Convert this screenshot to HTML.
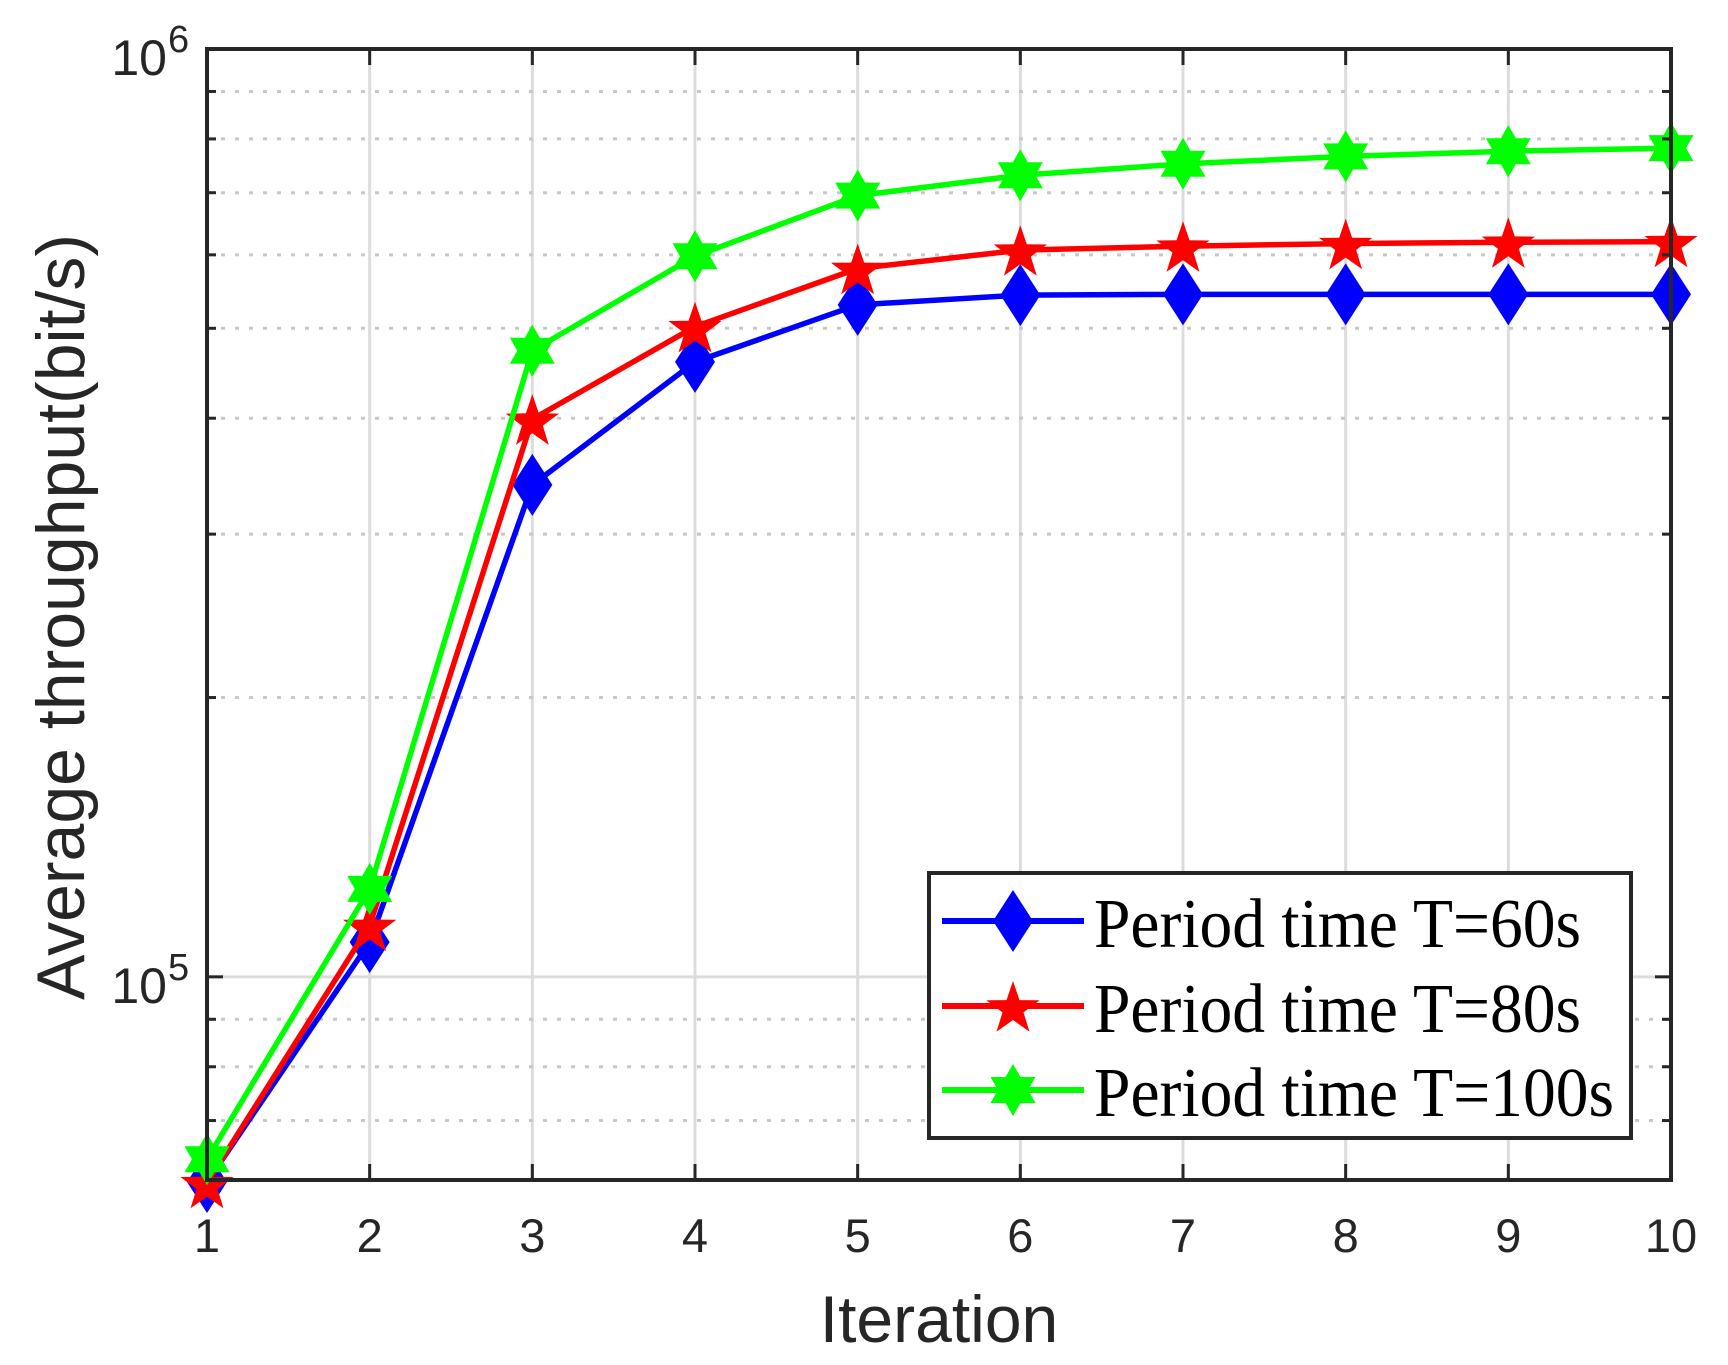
<!DOCTYPE html>
<html><head><meta charset="utf-8"><style>
html,body{margin:0;padding:0;background:#fff;}
svg{display:block;}
</style></head><body>
<svg id="chart" width="1728" height="1365" viewBox="0 0 1728 1365" xmlns="http://www.w3.org/2000/svg" font-family="Liberation Sans, sans-serif">
<rect width="1728" height="1365" fill="#fff"/>
<g id="grid"></g>
<g id="series"></g>
<g id="axes"></g>
<text x="939" y="1342" font-size="66" text-anchor="middle" fill="#262626">Iteration</text>
<text transform="translate(84,617) rotate(-90)" font-size="68" text-anchor="middle" fill="#262626">Average throughput(bit/s)</text>
<g id="legend"></g>
</svg>
<script>
const iterations = [1,2,3,4,5,6,7,8,9,10];
const seriesNames = ["Period time T=60s","Period time T=80s","Period time T=100s"];
const t60 = [60100,109000,339000,460000,530000,543000,544000,544000,544000,544000];
const t80 = [60000,113600,399000,502000,580000,607000,613000,617000,619000,620000];
const t100 = [63600,124400,473000,598000,695000,731000,752000,766000,776000,782000];
const xTicks = [1,2,3,4,5,6,7,8,9,10];
const yMin = 60400, yMax = 1000000;

const L=207,R=1671,T=49,B=1180;
const NS="http://www.w3.org/2000/svg";
const xs = v => L + (v-1)/9*(R-L);
const ys = v => T + (Math.log10(yMax)-Math.log10(v))/(Math.log10(yMax)-Math.log10(yMin))*(B-T);
function mk(tag, attrs, parent){const e=document.createElementNS(NS,tag);for(const k in attrs)e.setAttribute(k,attrs[k]);parent.appendChild(e);return e;}
const grid=document.getElementById('grid'), axes=document.getElementById('axes'), ser=document.getElementById('series'), leg=document.getElementById('legend');

xTicks.forEach(t=>{
  const x=xs(t);
  if(t>1&&t<10){const g=mk('line',{x1:x,x2:x,y1:T,y2:B,stroke:'#dcdcdc','stroke-width':3},grid);
  
  }
  mk('line',{x1:x,x2:x,y1:B,y2:B-16,stroke:'#262626','stroke-width':3},axes);
  mk('line',{x1:x,x2:x,y1:T,y2:T+16,stroke:'#262626','stroke-width':3},axes);
  const tx=mk('text',{x:x,y:1252,'font-size':47,'text-anchor':'middle',fill:'#262626'},axes);
  tx.textContent=t;
  
  
});
[1e5].forEach(v=>{const y=ys(v);mk('line',{x1:L,x2:R,y1:y,y2:y,stroke:'#dcdcdc','stroke-width':3},grid);
  mk('line',{x1:L,x2:L+16,y1:y,y2:y,stroke:'#262626','stroke-width':3},axes);
  mk('line',{x1:R,x2:R-16,y1:y,y2:y,stroke:'#262626','stroke-width':3},axes);});
[7e4,8e4,9e4,2e5,3e5,4e5,5e5,6e5,7e5,8e5,9e5].forEach(v=>{const y=ys(v);
  const g=mk('line',{x1:L,x2:R,y1:y,y2:y,stroke:'#c8c8c8','stroke-width':3,'stroke-dasharray':'4 10'},grid);
  
  
  mk('line',{x1:L,x2:L+9,y1:y,y2:y,stroke:'#262626','stroke-width':3},axes);
  mk('line',{x1:R,x2:R-9,y1:y,y2:y,stroke:'#262626','stroke-width':3},axes);});
[[1e5,'5'],[1e6,'6']].forEach(([v,e])=>{const y=ys(v);
  const t=mk('text',{x:167,y:y+26,'font-size':50,'text-anchor':'end',fill:'#262626'},axes);t.textContent='10';
  
  
  const s=mk('text',{x:168,y:y+3,'font-size':38,fill:'#262626'},axes);s.textContent=e;});
mk('rect',{x:L,y:T,width:R-L,height:B-T,fill:'none',stroke:'#262626','stroke-width':4},axes);

function starPts(cx,cy,n,ro,ri){let p=[];for(let i=0;i<2*n;i++){const a=-Math.PI/2+i*Math.PI/n;const r=i%2?ri:ro;p.push((cx+r*Math.cos(a)).toFixed(1)+','+(cy+r*Math.sin(a)).toFixed(1));}return p.join(' ');}
function marker(kind,cx,cy,color,parent){
  if(kind==='d') return mk('polygon',{points:`${cx},${cy-31} ${cx+20},${cy} ${cx},${cy+31} ${cx-20},${cy}`,fill:color},parent);
  if(kind==='p') return mk('polygon',{points:starPts(cx,cy+3,5,28,11),fill:color},parent);
  return mk('polygon',{points:starPts(cx,cy,6,26,15),fill:color},parent);
}
const all=[[t60,'#0000ff','d','series-t60'],[t80,'#ff0000','p','series-t80'],[t100,'#00ff00','h','series-t100']];
all.forEach(([d,c,k,n])=>{
  const g=mk('g',{},ser);
  
  
  const pts=d.map((v,i)=>xs(iterations[i])+','+ys(v)).join(' ');
  mk('polyline',{points:pts,fill:'none',stroke:c,'stroke-width':5.5,'stroke-linejoin':'round'},g);
  d.forEach((v,i)=>{const m=marker(k,xs(iterations[i]),ys(v),c,g);
    
    });
});
mk('rect',{x:929,y:873,width:702,height:265,fill:'#fff',stroke:'#262626','stroke-width':4},leg);
const rows=[921,1006,1090];
const textLens=[487,487,520];
all.forEach(([d,c,k],i)=>{
  const y=rows[i];
  mk('line',{x1:942,x2:1084,y1:y,y2:y,stroke:c,'stroke-width':6},leg);
  marker(k,1013,y,c,leg);
  const t=mk('text',{x:1094,y:y+26,'font-size':70,'font-family':'Liberation Serif, serif',fill:'#000',textLength:textLens[i],lengthAdjust:'spacingAndGlyphs'},leg);
  t.textContent=seriesNames[i];
  
  
});
</script>
</body></html>
